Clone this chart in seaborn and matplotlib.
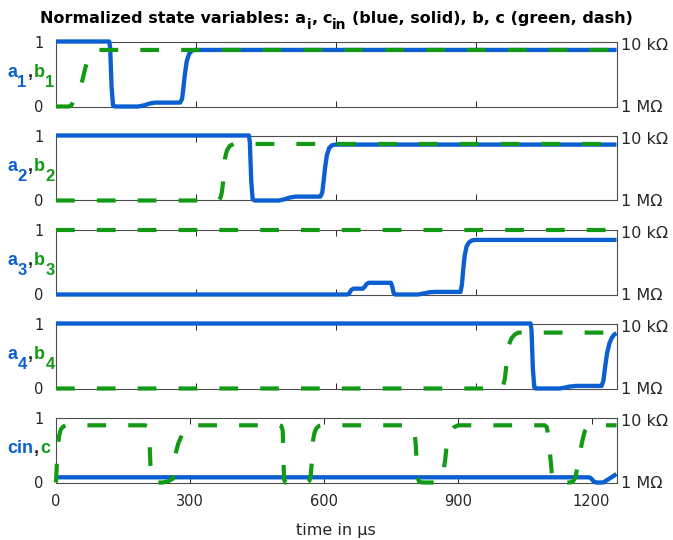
import matplotlib
matplotlib.use("Agg")
import matplotlib.pyplot as plt
from matplotlib.transforms import IdentityTransform
import seaborn as sns

# ---- data (time in us, normalized state 0..1) ----
a1_t = [0, 114, 116, 119, 122, 126, 176, 190, 200, 212, 266, 270, 273, 276, 280, 285, 291, 298, 1200]
a1_v = [1, 1, 0.9, 0.3, 0.02, 0, 0, 0.02, 0.045, 0.06, 0.06, 0.12, 0.3, 0.5, 0.7, 0.81, 0.86, 0.87, 0.87]
b1_t = [0, 28, 33, 36, 44, 51, 57, 62, 67, 72, 77, 83, 1200]
b1_v = [0, 0, 0.02, 0.06, 0.17, 0.26, 0.42, 0.57, 0.7, 0.79, 0.85, 0.87, 0.87]

a2_t = [0, 413, 415, 418, 421, 425, 477, 490, 500, 513, 566, 570, 573, 576, 580, 585, 591, 598, 1200]
a2_v = [1, 1, 0.9, 0.3, 0.02, 0, 0, 0.02, 0.045, 0.06, 0.06, 0.12, 0.3, 0.5, 0.7, 0.81, 0.85, 0.86, 0.86]
b2_t = [0, 343, 348, 352, 355, 358, 360, 362, 366, 372, 380, 1200]
b2_v = [0, 0, 0.01, 0.04, 0.12, 0.3, 0.5, 0.66, 0.77, 0.84, 0.87, 0.87]

a3_t = [0, 624, 628, 632, 637, 642, 657, 661, 665, 669, 674, 717, 720, 723, 726, 730, 775,
        790, 800, 812, 866, 869, 872, 875, 879, 884, 890, 897, 1200]
a3_v = [0, 0, 0.02, 0.07, 0.09, 0.09, 0.09, 0.12, 0.16, 0.18, 0.18, 0.18, 0.12, 0.02, 0, 0, 0,
        0.02, 0.035, 0.04, 0.04, 0.15, 0.4, 0.6, 0.74, 0.8, 0.83, 0.84, 0.84]
b3_t = [0, 1200]
b3_v = [1, 1]

a4_t = [0, 1016, 1018, 1021, 1024, 1027, 1078, 1090, 1100, 1114, 1168, 1172, 1176, 1180, 1185, 1190, 1195, 1200]
a4_v = [1, 1, 0.9, 0.3, 0.02, 0, 0, 0.015, 0.03, 0.04, 0.04, 0.12, 0.35, 0.55, 0.7, 0.78, 0.83, 0.85]
b4_t = [0, 945, 952, 957, 961, 964, 967, 970, 975, 982, 990, 1000, 1200]
b4_v = [0, 0, 0.01, 0.04, 0.15, 0.35, 0.55, 0.68, 0.77, 0.83, 0.86, 0.86, 0.86]

cin_t = [0, 1194, 1198, 1202, 1206, 1210, 1226, 1240, 1256]
cin_v = [0.08, 0.08, 0.07, 0.04, 0.01, 0, 0, 0.06, 0.13]
c_t = [0, 2, 4, 7, 11, 16, 22,
       200, 205, 208, 210, 212, 214, 218, 240, 252, 262, 265, 267, 270, 274, 279, 285, 292, 300,
       500, 505, 508, 509, 510, 511, 514, 562, 568, 571, 573, 574, 576, 579, 583, 589, 596,
       795, 800, 803, 806, 808, 810, 813, 820, 858, 864, 868, 872, 875, 878, 884, 892, 901,
       1095, 1100, 1103, 1106, 1109, 1111, 1114, 1120, 1150, 1158, 1164, 1168, 1172, 1176, 1180,
       1185, 1192, 1200, 1256]
c_v = [0, 0.3, 0.55, 0.72, 0.82, 0.86, 0.88,
       0.88, 0.87, 0.8, 0.55, 0.2, 0.05, 0, 0, 0.02, 0.06, 0.2, 0.4, 0.5, 0.6, 0.68, 0.78, 0.85, 0.88,
       0.88, 0.87, 0.8, 0.6, 0.3, 0.05, 0, 0, 0.03, 0.12, 0.3, 0.5, 0.65, 0.76, 0.83, 0.87, 0.88,
       0.88, 0.86, 0.8, 0.6, 0.35, 0.1, 0.02, 0, 0, 0.03, 0.18, 0.34, 0.55, 0.66, 0.78, 0.85, 0.88,
       0.88, 0.85, 0.72, 0.5, 0.3, 0.15, 0.04, 0, 0, 0.01, 0.08, 0.22, 0.38, 0.52, 0.66,
       0.79, 0.86, 0.88, 0.88]

x_max_top = 1200
x_max_bottom = 1256
res_ticks = [0, 0.965]
res_labels = ["1 M\u03a9", "10 k\u03a9"]

BLUE = "#0b5fd0"
GREEN = "#129a16"
INK = "#262626"

sns.set_style("white")
plt.rcParams["font.family"] = ["DejaVu Sans"]

fig = plt.figure(figsize=(6.73, 5.40), dpi=100)
W, H = 673, 540


def put_parts(parts, x, y, weight="bold", ha="left", family="DejaVu Sans"):
    # parts: (text, color, dy_px, size, gap_px) - draws coloured / subscripted pieces
    r = fig.canvas.get_renderer()
    made = []
    total = 0
    for s, col, dy, size, gap in parts:
        t = fig.text(0, 0, s, color=col, fontsize=size, fontweight=weight, family=family,
                     transform=IdentityTransform(), ha="left", va="baseline")
        w = t.get_window_extent(r).width
        made.append((t, dy, gap, w))
        total += gap + w
    cx = x - total / 2 if ha == "center" else x
    for t, dy, gap, w in made:
        cx += gap
        t.set_position((cx, y + dy))
        cx += w


def sub_label(a, b):
    return [(a, BLUE, 0, 13, 0), (b[0], BLUE, -10, 12, 0.5),
            (",", INK, 0, 13, 1), (b[1], GREEN, 0, 13, 1), (b[2], GREEN, -10, 12, 0.5)]


panels = [
    (a1_t, a1_v, b1_t, b1_v, sub_label("a", ("1", "b", "1")), x_max_top),
    (a2_t, a2_v, b2_t, b2_v, sub_label("a", ("2", "b", "2")), x_max_top),
    (a3_t, a3_v, b3_t, b3_v, sub_label("a", ("3", "b", "3")), x_max_top),
    (a4_t, a4_v, b4_t, b4_v, sub_label("a", ("4", "b", "4")), x_max_top),
    (cin_t, cin_v, c_t, c_v, [("cin", BLUE, 0, 13, 0), (",", INK, 0, 13, 1), ("c", GREEN, 0, 13, 1)], x_max_bottom),
]

bottoms_px = [106.5, 200.5, 294.5, 388.5, 482.5]
h_px = 65
left_px, right_px = 56, 616.5

for i, (at, av, bt, bv, label, xmax) in enumerate(panels):
    bot = bottoms_px[i]
    ax = fig.add_axes([left_px / W, 1 - bot / H, (right_px - left_px) / W, h_px / H])
    sns.lineplot(x=at, y=av, ax=ax, color=BLUE, linewidth=3.1, estimator=None, sort=False, errorbar=None)
    sns.lineplot(x=bt, y=bv, ax=ax, color=GREEN, linewidth=3, estimator=None, sort=False, errorbar=None)
    ln_a, ln_b = ax.lines[-2:]
    ln_b.set_linestyle((0, (4.5, 5.3)))
    ln_a.set_zorder(3)
    ln_b.set_zorder(3.1)
    for ln in (ln_a, ln_b):
        ln.set_clip_on(False)
        ln.set_solid_capstyle("butt")

    ax.set_xlim(0, xmax)
    ax.set_ylim(0, 1)
    ax.set_yticks([0, 1], ["0", "1"])
    last = i == len(panels) - 1
    if last:
        ax.set_xticks([0, 300, 600, 900, 1200], ["0", "300", "600", "900", "1200"])
    else:
        ax.set_xticks([300, 600, 900], [])
    ax.set_xlabel("")
    ax.set_ylabel("")
    ax.tick_params(axis="x", direction="in", length=4, width=0.7, color=INK,
                   top=True, bottom=True, labelsize=10.5, pad=8, labelcolor=INK)
    ax.tick_params(axis="y", direction="in", length=0, labelsize=10.5, pad=9, labelcolor=INK)
    for sp in ax.spines.values():
        sp.set_color("#4d4d4d")
        sp.set_linewidth(0.8)

    tw = ax.twinx()
    tw.set_ylim(0, 1)
    tw.set_yticks(res_ticks, res_labels)
    tw.tick_params(axis="y", length=0, pad=3, labelsize=11.5, labelcolor=INK)
    for sp in tw.spines.values():
        sp.set_visible(False)

    # coloured y label, baseline a bit below panel centre
    y_base = H - (bot - h_px / 2) - 3
    put_parts(label, 7, y_base, family="Liberation Sans")

# title with subscripts
title_parts = [
    ("Normalized state variables: a", "black", 0, 11.5, 0),
    ("i", "black", -6, 10, 0.5),
    (",", "black", 0, 11.5, 0.5),
    ("c", "black", 0, 11.5, 4.5),
    ("in", "black", -6, 10, 0.5),
    ("(blue, solid), b, c (green, dash)", "black", 0, 11.5, 5),
]
put_parts(title_parts, (left_px + right_px) / 2, H - 23, ha="center")

fig.text((left_px + right_px) / 2 / W, 5 / H, "time in \u03bcs", ha="center", va="baseline",
         fontsize=11.5, color=INK)

fig.savefig("out.png", dpi=100)
